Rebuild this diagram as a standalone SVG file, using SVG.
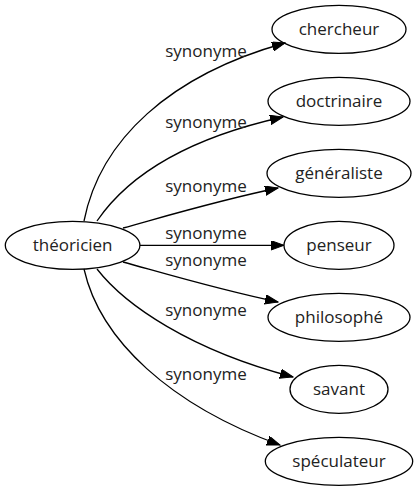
<svg xmlns="http://www.w3.org/2000/svg" width="418" height="491" viewBox="0 0 418 491">
<style>
text{font-family:"Open Sans","Noto Sans","DejaVu Sans",sans-serif;font-size:17px;fill:#222;text-anchor:middle}
.node ellipse{fill:none;stroke:#000;stroke-width:1.3}
.edges path{fill:none;stroke:#000;stroke-width:1.3;marker-end:url(#arr)}
</style>
<defs>
<marker id="arr" markerUnits="userSpaceOnUse" markerWidth="14" markerHeight="10" refX="13" refY="4.7" orient="auto" viewBox="0 0 14 10">
<path d="M0,0 L13,4.7 L0,9.4 z" fill="#000" stroke="#000" stroke-width="1"/>
</marker>
</defs>
<rect width="418" height="491" fill="#fff"/>
<g class="edges" id="edges">
<path d="M84,221 C100,140 170,75 285,43"/>
<path d="M97,221 C125,180 180,140 283,117"/>
<path d="M123,228 C170,215 220,200 278,188"/>
<path d="M140,245.3 L284,245.3"/>
<path d="M123,262 C170,275 220,290 278,302"/>
<path d="M97,269 C125,305 190,350 293,377"/>
<path d="M84,269 C100,340 170,405 280,445"/>
<text x="206" y="56.7">synonyme</text>
<text x="206" y="128.3">synonyme</text>
<text x="206" y="191.7">synonyme</text>
<text x="206" y="239.3">synonyme</text>
<text x="206" y="266">synonyme</text>
<text x="206" y="316">synonyme</text>
<text x="206" y="380">synonyme</text>
</g>
<g class="node" id="n-theoricien"><ellipse cx="72.6" cy="245.3" rx="67.3" ry="24"/><text x="72.6" y="251.3">théoricien</text></g>
<g class="node" id="n-chercheur"><ellipse cx="339" cy="29.3" rx="67" ry="24"/><text x="339" y="35.3">chercheur</text></g>
<g class="node" id="n-doctrinaire"><ellipse cx="339" cy="101.3" rx="71" ry="24"/><text x="339" y="107.3">doctrinaire</text></g>
<g class="node" id="n-generaliste"><ellipse cx="339" cy="173.3" rx="72" ry="24"/><text x="339" y="179.3">généraliste</text></g>
<g class="node" id="n-penseur"><ellipse cx="339" cy="245.3" rx="55" ry="24"/><text x="339" y="251.3">penseur</text></g>
<g class="node" id="n-philosophe"><ellipse cx="339" cy="317.3" rx="71" ry="24"/><text x="339" y="323.3">philosophé</text></g>
<g class="node" id="n-savant"><ellipse cx="339" cy="389.3" rx="49" ry="24"/><text x="339" y="395.3">savant</text></g>
<g class="node" id="n-speculateur"><ellipse cx="339" cy="461.3" rx="73.7" ry="24"/><text x="339" y="467.3">spéculateur</text></g>
</svg>
